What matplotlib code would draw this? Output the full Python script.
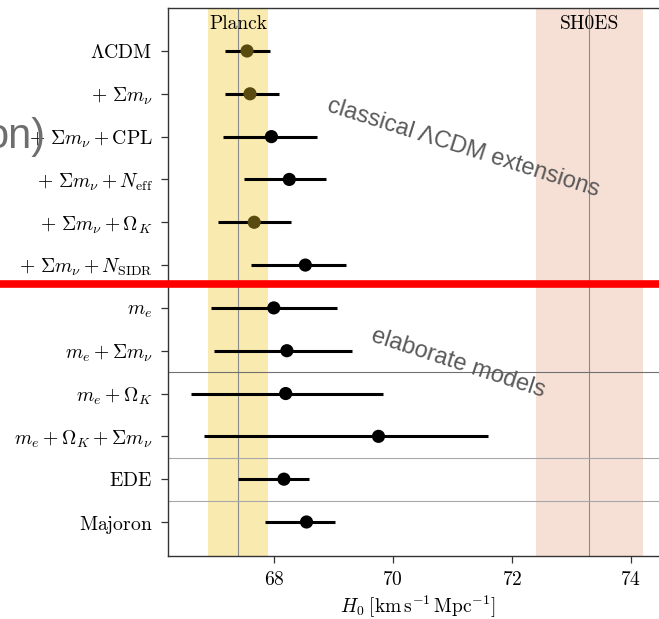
import numpy as np
import matplotlib
matplotlib.use("Agg")
import matplotlib.pyplot as plt
from matplotlib.lines import Line2D
from matplotlib.colors import to_rgb

plt.rcParams['mathtext.fontset'] = 'cm'
plt.rcParams['font.family'] = 'serif'
plt.rcParams['font.serif'] = ['cmr10']
plt.rcParams['axes.unicode_minus'] = False
plt.rcParams['axes.formatter.use_mathtext'] = True

# H0 constraints per model (central value, lower and upper end of the bar)
models = [r'$\Lambda\mathrm{CDM}$',
          r'$+\ \Sigma m_\nu$',
          r'$+\ \Sigma m_\nu + \mathrm{CPL}$',
          r'$+\ \Sigma m_\nu + N_\mathrm{eff}$',
          r'$+\ \Sigma m_\nu + \Omega_K$',
          r'$+\ \Sigma m_\nu + N_\mathrm{SIDR}$',
          r'$m_e$',
          r'$m_e + \Sigma m_\nu$',
          r'$m_e + \Omega_K$',
          r'$m_e + \Omega_K + \Sigma m_\nu$',
          r'$\mathrm{EDE}$',
          r'$\mathrm{Majoron}$']
h0_mid = [67.55, 67.60, 67.96, 68.26, 67.67, 68.53,
          68.00, 68.22, 68.20, 69.76, 68.17, 68.55]
h0_lo = [67.18, 67.18, 67.15, 67.50, 67.06, 67.61,
         66.94, 66.99, 66.60, 66.82, 67.40, 67.86]
h0_hi = [67.93, 68.08, 68.73, 68.87, 68.29, 69.22,
         69.06, 69.31, 69.83, 71.60, 68.59, 69.03]

planck_h0, planck_err = 67.4, 0.5
shoes_h0, shoes_lo, shoes_hi = 73.3, 72.4, 74.2

# separators between groups of models (in row units, bottom row = 0)
separators = [3.5, 1.5, 0.5]

planck_col, planck_alpha = '#f0c828', 0.37
shoes_col = '#f6e0d6'

fig = plt.figure(figsize=(6.59, 6.19), dpi=100)
ax = fig.add_axes([0.2549, 0.1018, 0.757, 0.8853])

n = len(models)
ypos = np.arange(n)[::-1]
mid = np.array(h0_mid)
lo = np.array(h0_lo)
hi = np.array(h0_hi)

ax.axvspan(planck_h0 - planck_err, planck_h0 + planck_err, color=planck_col,
           alpha=planck_alpha, lw=0, zorder=0.5)
ax.axvspan(shoes_lo, shoes_hi, color=shoes_col, lw=0, zorder=0.5)
ax.axvline(planck_h0, color='#8a8a8a', lw=0.8, zorder=1)
ax.axvline(shoes_h0, color='#8a8a8a', lw=0.8, zorder=1)

for k, s in enumerate(separators):
    ax.axhline(s, color='#707070' if k == 0 else '#a8a8a8', lw=0.8, zorder=1)

ax.hlines(ypos, lo, hi, color='k', lw=2.2, zorder=3)

# points lying inside the Planck band look tinted by it
tint = tuple(planck_alpha * c for c in to_rgb(planck_col))
inside = np.abs(mid - planck_h0) < planck_err
cols = [tint if f else 'k' for f in inside]
ax.scatter(mid, ypos, s=90, c=cols, zorder=4, linewidths=0)

ax.text(planck_h0, 11.63, 'Planck', ha='center', va='center', fontsize=14)
ax.text(shoes_h0, 11.63, 'SH0ES', ha='center', va='center', fontsize=14)

ax.set_xlim(66.221, 74.607)
ax.set_ylim(-0.794, 12.004)
ax.set_xticks([68, 70, 72, 74])
ax.set_yticks(ypos)
ax.set_yticklabels(models)
ax.tick_params(axis='y', labelsize=14.2, length=5, width=0.9,
               color='#333333', pad=6)
ax.tick_params(axis='x', labelsize=14, length=5, width=0.9,
               color='#333333', pad=6)
ax.set_xlabel(r'$H_0\;[\mathrm{km\,s^{-1}\,Mpc^{-1}}]$', fontsize=14,
              labelpad=3)
for side in ['top', 'left', 'bottom']:
    ax.spines[side].set_color('#333333')
    ax.spines[side].set_linewidth(1.0)
ax.spines['right'].set_visible(False)

# hand-written notes on top of the figure
note = dict(family='Liberation Sans', color='#595959', ha='center',
            va='center', rotation_mode='anchor')
fig.text(0.7026, 0.761, 'classical \u039bCDM extensions', fontsize=17,
         rotation=-17.5, **note)
fig.text(0.695, 0.4136, 'elaborate models', fontsize=17, rotation=-18, **note)
fig.text(0.0683, 0.779, 'on)', fontsize=30, family='Liberation Sans',
         color='#6e6e6e', ha='right', va='center')
fig.add_artist(Line2D([0, 1], [0.5412, 0.5412], transform=fig.transFigure,
                      color='#ff0000', lw=5.5))

fig.savefig('out.png', dpi=100)
